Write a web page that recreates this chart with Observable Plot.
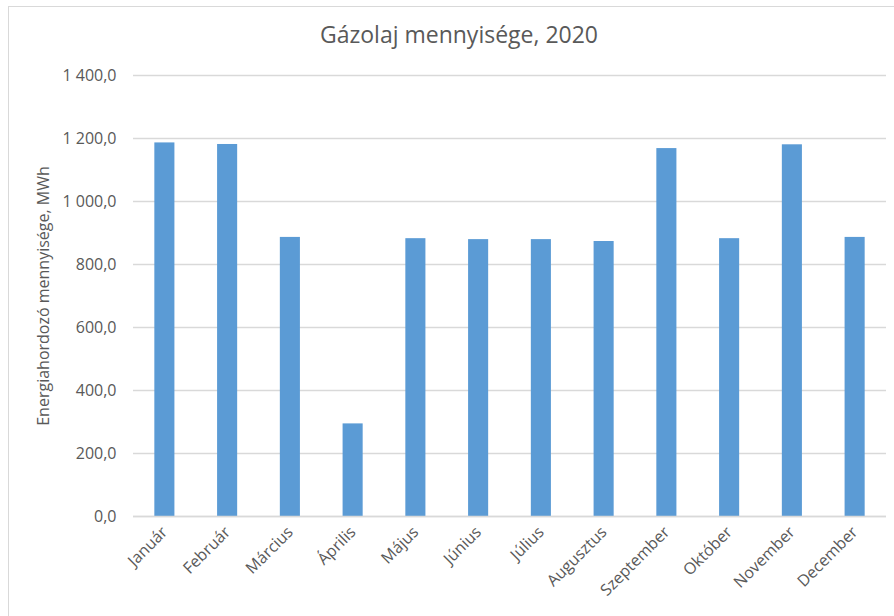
<!DOCTYPE html>
<html>
<head>
<meta charset="utf-8">
<script src="https://cdn.jsdelivr.net/npm/d3@7"></script>
<script src="https://cdn.jsdelivr.net/npm/@observablehq/plot@0.6"></script>
<style>
  html, body { margin: 0; padding: 0; background: #fff; }
  #wrap { position: relative; width: 894px; height: 616px; overflow: hidden; font-family: "Open Sans", "Noto Sans", sans-serif; }
  #frame { position: absolute; left: 8px; top: 6px; width: 900px; height: 620px; border-left: 1.5px solid #D9D9D9; border-top: 1.5px solid #D9D9D9; }
  #title { position: absolute; left: 0; width: 918px; top: 18px; text-align: center; font-size: 23px; color: #595959; }
  #chart { position: absolute; left: 0; top: 0; }
</style>
</head>
<body>
<div id="wrap">
  <div id="frame"></div>
  <div id="chart"></div>
  <div id="title">Gázolaj mennyisége, 2020</div>
</div>
<script>
const months = ["Január","Február","Március","Április","Május","Június","Július","Augusztus","Szeptember","Október","November","December"];
const values = [1186, 1181, 886, 294, 882, 879, 879, 873, 1168, 882, 1180, 886];
const yTicks = [0, 200, 400, 600, 800, 1000, 1200, 1400];
const yLabel = "Energiahordozó mennyisége, MWh";

const data = months.map((m, i) => ({month: m, value: values[i]}));
const loc = d3.formatLocale({decimal: ",", thousands: " ", grouping: [3]});
const fmt = loc.format(",.1f");

const chart = Plot.plot({
  width: 894,
  height: 616,
  marginLeft: 133,
  marginRight: 8,
  marginTop: 75,
  marginBottom: 100,
  style: {fontFamily: "'Open Sans', 'Noto Sans', sans-serif", fontSize: "16px", color: "#595959", background: "transparent"},
  x: {domain: months, paddingInner: 0.68, paddingOuter: 0.34, round: false, label: null, tickSize: 0, tickRotate: -45, tickPadding: 13},
  y: {domain: [0, 1400], ticks: yTicks, tickFormat: fmt, tickSize: 0, tickPadding: 17, label: yLabel, labelAnchor: "center", labelArrow: "none", labelOffset: 96},
  marks: [
    Plot.gridY(yTicks, {stroke: "#D9D9D9", strokeOpacity: 1, strokeWidth: 1.3}),
    Plot.barY(data, {x: "month", y: "value", fill: "#5B9BD5"}),
    Plot.ruleY([0], {stroke: "#D9D9D9", strokeWidth: 1.3})
  ]
});
document.getElementById("chart").appendChild(chart);
</script>
</body>
</html>
